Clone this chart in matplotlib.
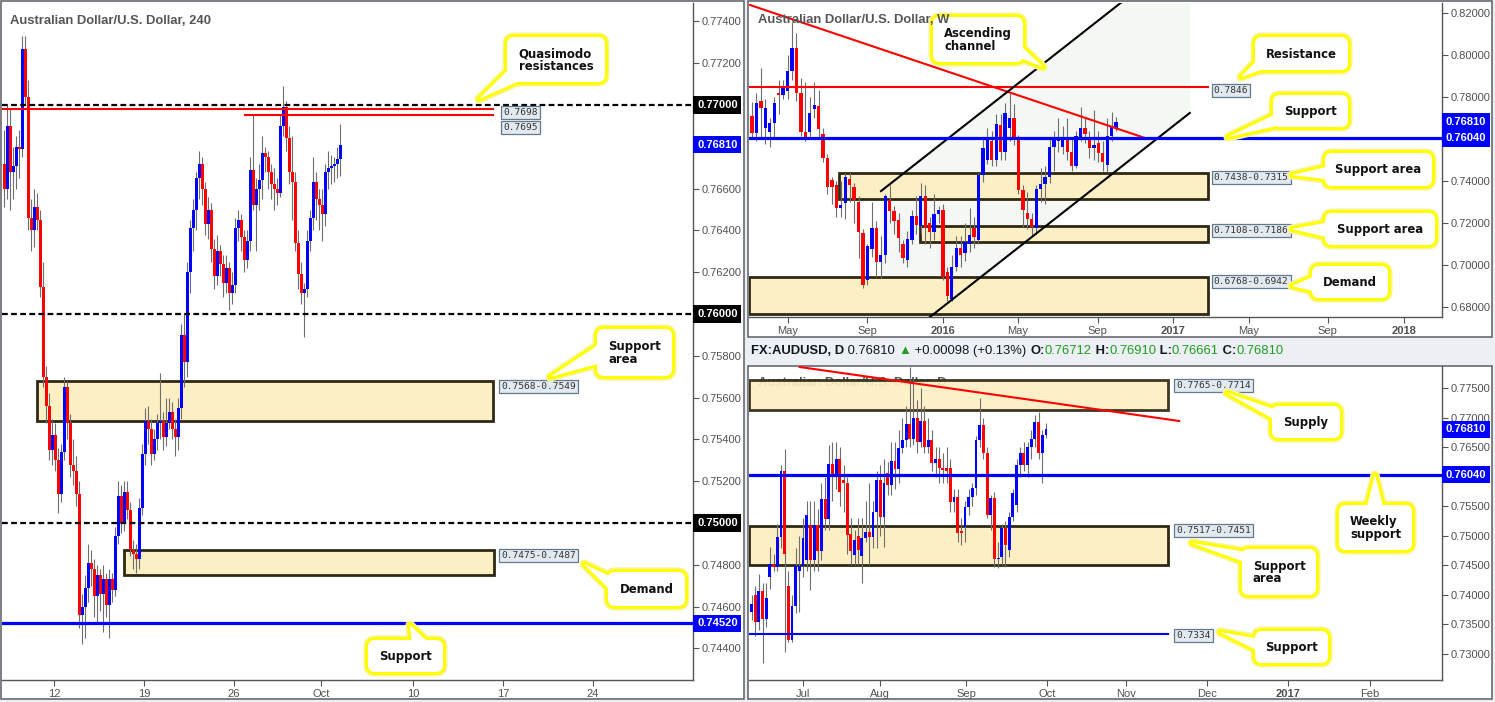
import numpy as np
import matplotlib
matplotlib.use("Agg")
import matplotlib.pyplot as plt
from matplotlib.patches import Rectangle, FancyBboxPatch, Polygon
from matplotlib.transforms import blended_transform_factory

plt.rcParams['font.family'] = ['Liberation Sans', 'DejaVu Sans']

W, H = 1495, 702

# ---------------- 4h candles (8 Sep - 3 Oct 2016) ----------------
h4_open = [.7672, .7660, .7690, .7668, .7671, .7680, .7679, .7727, .7704, .7646,
           .7640, .7651, .7645, .7613, .7570, .7556, .7535, .7542, .7530, .7514,
           .7534, .7565, .7548, .7528, .7525, .7514, .7456, .7460, .7469, .7481,
           .7478, .7465, .7475, .7466, .7473, .7461, .7473, .7468, .7494, .7513,
           .7500, .7515, .7506, .7487, .7485, .7483, .7507, .7533, .7549, .7545,
           .7533, .7540, .7548, .7549, .7541, .7548, .7553, .7545, .7541, .7555,
           .7590, .7577, .7620, .7641, .7650, .7665, .7672, .7660, .7643, .7650,
           .7631, .7618, .7630, .7624, .7615, .7622, .7610, .7614, .7641, .7645,
           .7637, .7626, .7635, .7669, .7652, .7660, .7664, .7677, .7675, .7668,
           .7662, .7660, .7658, .7690, .7699, .7684, .7668, .7663, .7634, .7619,
           .7610, .7612, .7635, .7646, .7663, .7655, .7652, .7648, .7668, .7670,
           .7671, .7672, .7674]
h4_high = [.7688, .7700, .7698, .7680, .7685, .7688, .7733, .7733, .7712, .7655,
           .7660, .7658, .7650, .7625, .7575, .7562, .7550, .7548, .7536, .7538,
           .7570, .7568, .7552, .7540, .7532, .7520, .7466, .7475, .7490, .7487,
           .7483, .7480, .7478, .7480, .7476, .7478, .7476, .7498, .7520, .7518,
           .7520, .7520, .7510, .7492, .7490, .7512, .7538, .7555, .7556, .7550,
           .7545, .7552, .7572, .7553, .7560, .7560, .7558, .7550, .7560, .7595,
           .7600, .7625, .7645, .7655, .7668, .7678, .7675, .7663, .7656, .7653,
           .7636, .7638, .7633, .7628, .7628, .7625, .7620, .7646, .7650, .7648,
           .7640, .7640, .7675, .7695, .7665, .7672, .7685, .7680, .7678, .7672,
           .7670, .7665, .7695, .7709, .7702, .7690, .7685, .7668, .7640, .7625,
           .7615, .7640, .7650, .7675, .7668, .7660, .7660, .7672, .7678, .7676,
           .7675, .7680, .7691]
h4_low = [.7651, .7655, .7650, .7655, .7660, .7665, .7675, .7700, .7640, .7630,
          .7632, .7640, .7608, .7565, .7548, .7530, .7528, .7525, .7505, .7510,
          .7530, .7540, .7522, .7518, .7508, .7450, .7442, .7445, .7462, .7470,
          .7455, .7452, .7458, .7448, .7455, .7445, .7462, .7465, .7490, .7495,
          .7496, .7502, .7484, .7478, .7476, .7478, .7504, .7528, .7538, .7528,
          .7530, .7535, .7540, .7535, .7537, .7545, .7540, .7532, .7535, .7550,
          .7565, .7570, .7610, .7630, .7640, .7655, .7652, .7638, .7636, .7625,
          .7612, .7614, .7618, .7608, .7610, .7602, .7605, .7610, .7635, .7630,
          .7620, .7622, .7630, .7650, .7630, .7650, .7655, .7668, .7660, .7655,
          .7650, .7652, .7656, .7685, .7678, .7662, .7645, .7630, .7612, .7605,
          .7589, .7608, .7630, .7640, .7645, .7640, .7635, .7642, .7660, .7662,
          .7663, .7665, .7666]
h4_close = [.7660, .7690, .7668, .7671, .7680, .7679, .7727, .7704, .7646, .7640,
            .7651, .7645, .7613, .7570, .7556, .7535, .7542, .7530, .7514, .7534,
            .7565, .7548, .7528, .7525, .7514, .7456, .7460, .7469, .7481, .7478,
            .7465, .7475, .7466, .7473, .7461, .7473, .7468, .7494, .7513, .7500,
            .7515, .7506, .7487, .7485, .7483, .7507, .7533, .7549, .7545, .7533,
            .7540, .7548, .7549, .7541, .7548, .7553, .7545, .7541, .7555, .7590,
            .7577, .7620, .7641, .7650, .7665, .7672, .7660, .7643, .7650, .7631,
            .7618, .7630, .7624, .7615, .7622, .7610, .7614, .7641, .7645, .7637,
            .7626, .7635, .7669, .7652, .7660, .7664, .7677, .7675, .7668, .7662,
            .7660, .7658, .7690, .7699, .7684, .7668, .7663, .7634, .7619, .7610,
            .7612, .7635, .7646, .7663, .7655, .7652, .7648, .7668, .7670, .7671,
            .7672, .7674, .7681]
h4_tick_pos = [16.5, 46.5, 76.5, 105.5, 136.2, 166.2, 196.2]
h4_tick_labels = ['12', '19', '26', 'Oct', '10', '17', '24']

# ---------------- weekly candles (Apr 2015 - Oct 2016) ----------------
wk_open = [.7710, .7630, .7781, .7650, .7633, .7676, .7819, .7810, .7829, .7924,
           .8033, .7819, .7633, .7633, .7743, .7757, .7624, .7510, .7404, .7381,
           .7271, .7295, .7410, .7371, .7300, .7152, .6929, .7076, .7176, .7014,
           .7048, .7310, .7257, .7214, .7100, .7024, .7119, .7233, .7186, .7329,
           .7200, .7157, .7243, .7262, .6967, .6838, .6990, .7081, .7057, .7100,
           .7176, .7119, .7429, .7500, .7590, .7500, .7667, .7538, .7652, .7700,
           .7595, .7357, .7248, .7219, .7176, .7362, .7386, .7420, .7562, .7590,
           .7562, .7610, .7540, .7470, .7605, .7652, .7605, .7557, .7581, .7533,
           .7476, .7614, .7652]
wk_high = [.7775, .7820, .7938, .7790, .7700, .7800, .7880, .7880, .8000, .8155,
           .8105, .7890, .7870, .7800, .7870, .7835, .7650, .7530, .7420, .7400,
           .7400, .7440, .7440, .7390, .7330, .7170, .7100, .7300, .7210, .7140,
           .7340, .7382, .7280, .7250, .7120, .7160, .7260, .7330, .7390, .7380,
           .7230, .7340, .7280, .7290, .6990, .7050, .7140, .7140, .7200, .7270,
           .7230, .7440, .7600, .7650, .7640, .7720, .7720, .7770, .7819, .7765,
           .7620, .7380, .7350, .7250, .7380, .7460, .7470, .7600, .7640, .7700,
           .7660, .7700, .7600, .7640, .7752, .7700, .7640, .7738, .7640, .7590,
           .7700, .7730, .7705]
wk_low = [.7600, .7590, .7610, .7575, .7562, .7600, .7720, .7790, .7790, .7880,
          .7780, .7615, .7590, .7600, .7700, .7600, .7490, .7340, .7290, .7230,
          .7230, .7220, .7300, .7200, .7033, .6890, .6905, .7040, .6943, .6940,
          .7010, .7200, .7150, .7060, .7010, .6990, .7100, .7150, .7150, .7100,
          .7080, .7120, .7200, .6930, .6827, .6827, .6970, .6990, .7020, .7060,
          .7080, .7100, .7395, .7480, .7470, .7470, .7500, .7500, .7590, .7570,
          .7340, .7180, .7170, .7140, .7150, .7300, .7290, .7390, .7450, .7540,
          .7530, .7500, .7450, .7460, .7590, .7580, .7510, .7500, .7490, .7450,
          .7445, .7590, .7640]
wk_close = [.7630, .7770, .7748, .7748, .7676, .7771, .7810, .7843, .7924, .8033,
            .7819, .7633, .7610, .7724, .7762, .7648, .7510, .7371, .7371, .7271,
            .7286, .7419, .7380, .7310, .7157, .6905, .7090, .7176, .7014, .7048,
            .7329, .7257, .7210, .7129, .7033, .7124, .7233, .7190, .7329, .7176,
            .7157, .7243, .7262, .6943, .6852, .6990, .7081, .7050, .7110, .7143,
            .7133, .7429, .7557, .7595, .7500, .7671, .7538, .7724, .7700, .7600,
            .7357, .7262, .7219, .7181, .7362, .7386, .7420, .7562, .7595, .7600,
            .7610, .7540, .7470, .7614, .7652, .7624, .7557, .7571, .7533, .7490,
            .7614, .7662, .7681]
wk_tick_pos = [8.1, 25.9, 43.0, 59.9, 77.9, 94.8, 111.9, 129.7, 146.8]
wk_tick_labels = ['May', 'Sep', '2016', 'May', 'Sep', '2017', 'May', 'Sep', '2018']

# ---------------- daily candles (13 Jun - 3 Oct 2016) ----------------
d_open = [.7371, .7400, .7354, .7407, .7359, .7431, .7453, .7448, .7498, .7610,
          .7415, .7324, .7381, .7440, .7449, .7460, .7519, .7459, .7519, .7475,
          .7563, .7529, .7622, .7605, .7631, .7595, .7590, .7503, .7468, .7500,
          .7466, .7497, .7507, .7498, .7540, .7595, .7532, .7607, .7586, .7627,
          .7614, .7649, .7663, .7690, .7665, .7700, .7660, .7695, .7650, .7663,
          .7624, .7630, .7615, .7615, .7615, .7558, .7566, .7508, .7515, .7549,
          .7566, .7581, .7663, .7688, .7641, .7536, .7564, .7461, .7464, .7514,
          .7476, .7532, .7552, .7620, .7641, .7620, .7650, .7665, .7693, .7640,
          .76712]
d_high = [.7400, .7415, .7435, .7420, .7420, .7481, .7470, .7520, .7620, .7647,
          .7440, .7400, .7480, .7500, .7530, .7560, .7560, .7560, .7545, .7590,
          .7600, .7654, .7660, .7660, .7650, .7620, .7600, .7530, .7510, .7530,
          .7530, .7560, .7590, .7560, .7610, .7620, .7630, .7625, .7660, .7660,
          .7680, .7700, .7720, .7786, .7768, .7730, .7751, .7720, .7700, .7680,
          .7650, .7650, .7640, .7650, .7630, .7580, .7580, .7530, .7560, .7580,
          .7590, .7670, .7734, .7700, .7650, .7570, .7575, .7490, .7520, .7525,
          .7540, .7580, .7630, .7650, .7660, .7660, .7680, .7705, .7710, .7680,
          .76910]
d_low = [.7358, .7331, .7340, .7285, .7345, .7410, .7440, .7440, .7480, .7303,
         .7320, .7320, .7370, .7371, .7430, .7440, .7408, .7440, .7440, .7460,
         .7510, .7510, .7560, .7580, .7550, .7540, .7470, .7450, .7450, .7450,
         .7420, .7490, .7450, .7480, .7480, .7500, .7481, .7570, .7570, .7580,
         .7590, .7640, .7650, .7650, .7655, .7640, .7650, .7640, .7640, .7610,
         .7600, .7590, .7590, .7590, .7540, .7540, .7490, .7485, .7490, .7535,
         .7550, .7570, .7650, .7630, .7530, .7510, .7447, .7445, .7450, .7447,
         .7465, .7525, .7540, .7600, .7610, .7600, .7630, .7650, .7630, .7590,
         .76661]
d_close = [.7385, .7354, .7407, .7359, .7395, .7453, .7448, .7498, .7610, .7469,
           .7324, .7381, .7449, .7449, .7497, .7536, .7459, .7519, .7475, .7563,
           .7529, .7622, .7605, .7631, .7575, .7590, .7502, .7475, .7493, .7476,
           .7497, .7507, .7498, .7540, .7595, .7532, .7590, .7586, .7627, .7614,
           .7649, .7663, .7690, .7665, .7700, .7660, .7695, .7650, .7663, .7624,
           .7630, .7615, .7612, .7610, .7558, .7566, .7505, .7505, .7549, .7566,
           .7581, .7663, .7688, .7641, .7536, .7564, .7461, .7463, .7514, .7484,
           .7532, .7572, .7620, .7641, .7620, .7650, .7665, .7693, .7640, .7671,
           .76810]
d_tick_pos = [14.0, 34.9, 58.3, 80.3, 101.8, 123.8, 145.8, 168.1]
d_tick_labels = ['Jul', 'Aug', 'Sep', 'Oct', 'Nov', 'Dec', '2017', 'Feb']

RED = '#ff0000'
BLUE = '#0000ff'
ZONE_FC = '#fdefc4'
ZONE_EC = '#2f2913'
AXIS_C = '#555555'


def px_rect(x0, y0, x1, y1):
    return [x0 / W, 1 - y1 / H, (x1 - x0) / W, (y1 - y0) / H]


def candles(ax, o, h, l, c, width, min_body):
    o, h, l, c = map(np.asarray, (o, h, l, c))
    x = np.arange(len(o))
    ax.vlines(x, l, h, color='#6e6e6e', lw=0.8, zorder=3)
    up = c >= o
    body = np.maximum(np.abs(c - o), min_body)
    ax.bar(x[up], body[up], bottom=o[up], width=width, color=BLUE, lw=0, zorder=4)
    ax.bar(x[~up], body[~up], bottom=c[~up], width=width, color=RED, lw=0, zorder=4)


def style_axis(ax, xlim, ylim, yticks, hidden, xticks, xlabels):
    ax.set_facecolor('none')
    ax.set_xlim(*xlim)
    ax.set_ylim(*ylim)
    for s in ('left', 'top'):
        ax.spines[s].set_visible(False)
    for s in ('right', 'bottom'):
        ax.spines[s].set_color(AXIS_C)
        ax.spines[s].set_linewidth(1.0)
    ax.yaxis.tick_right()
    ax.set_yticks(yticks)
    # levels covered by a price tag in the original keep no visible label
    ax.set_yticklabels(['' if any(abs(v - hv) < 1e-9 for hv in hidden) else '%.5f' % v
                        for v in yticks])
    ax.set_xticks(xticks)
    ax.set_xticklabels(xlabels)
    for lab in ax.get_xticklabels():
        if lab.get_text().isdigit() and len(lab.get_text()) == 4:
            lab.set_fontweight('bold')
    ax.tick_params(axis='both', length=4, width=0.8, color=AXIS_C,
                   labelcolor='#505050', labelsize=8, pad=2.5)


def price_tag(ax, y, text, color):
    tr = blended_transform_factory(ax.transAxes, ax.transData)
    ax.annotate(text, xy=(1, y), xycoords=tr, xytext=(4, 0), textcoords='offset pixels',
                ha='left', va='center', color='white', fontsize=8, fontweight='bold',
                bbox=dict(boxstyle='square,pad=0.33', fc=color, ec='none'),
                zorder=20, annotation_clip=False)


def level_tag(ax, x, y, text, dy=0, va='top'):
    ax.annotate(text, xy=(x, y), xytext=(0, -dy), textcoords='offset pixels',
                ha='left', va=va, fontsize=6.8, family='DejaVu Sans Mono', color='#333333',
                bbox=dict(boxstyle='square,pad=0.22', fc='#e2eaf0', ec='#637a8c', lw=0.9),
                zorder=9, annotation_clip=False)


def zone(ax, x0, x1, lo, hi):
    ax.add_patch(Rectangle((x0, lo), x1 - x0, hi - lo, fc=ZONE_FC, ec=ZONE_EC,
                           lw=2.0, zorder=2))


fig = plt.figure(figsize=(W / 100, H / 100), dpi=100)
fig.patch.set_facecolor('#eceff3')

bg = fig.add_axes([0, 0, 1, 1], zorder=0)
bg.set_xlim(0, W)
bg.set_ylim(H, 0)
bg.axis('off')
for (x0, y0, x1, y1) in [(1, 1, 744, 699), (748, 1, 1492, 337), (748, 366, 1492, 699)]:
    bg.add_patch(Rectangle((x0, y0), x1 - x0, y1 - y0, fc='white', ec='#5a5e63', lw=1.1))

# ================= left: 4h =================
ax1 = fig.add_axes(px_rect(2, 3, 693, 680), zorder=2)
style_axis(ax1, (-0.83, 229.5), (0.74249, 0.77488),
           np.round(np.arange(0.744, 0.7741, 0.002), 3), (0.770, 0.768, 0.760, 0.750),
           h4_tick_pos, h4_tick_labels)
candles(ax1, h4_open, h4_high, h4_low, h4_close, 0.85, 0.00006)
for lvl in (0.770, 0.760, 0.750):
    ax1.axhline(lvl, color='black', lw=1.6, ls=(0, (2.6, 1.5)), zorder=5)
ax1.plot([-0.83, 162.8], [0.7698, 0.7698], color=RED, lw=1.5, zorder=5)
ax1.plot([80.2, 162.8], [0.7695, 0.7695], color=RED, lw=1.5, zorder=5)
zone(ax1, 10.8, 162.8, 0.7549, 0.7568)
zone(ax1, 39.8, 163.2, 0.7475, 0.7487)
ax1.axhline(0.7452, color=BLUE, lw=2.3, zorder=5)
level_tag(ax1, 166.2, 0.7698, '0.7698', dy=3, va='center')
level_tag(ax1, 166.2, 0.7695, '0.7695', dy=12, va='center')
level_tag(ax1, 165.5, 0.7568, '0.7568-0.7549', dy=1)
level_tag(ax1, 165.5, 0.7487, '0.7475-0.7487', dy=1)
ax1.text(0.012, 0.974, 'Australian Dollar/U.S. Dollar, 240', transform=ax1.transAxes,
         fontsize=9.4, fontweight='bold', color='#555555', va='center', ha='left', zorder=6)
price_tag(ax1, 0.770, '0.77000', 'black')
price_tag(ax1, 0.7681, '0.76810', BLUE)
price_tag(ax1, 0.760, '0.76000', 'black')
price_tag(ax1, 0.750, '0.75000', 'black')
price_tag(ax1, 0.7452, '0.74520', BLUE)

# ================= top right: weekly =================
ax2 = fig.add_axes(px_rect(749, 3, 1442, 317), zorder=2)
style_axis(ax2, (-0.68, 155.4), (0.67524, 0.82476),
           np.round(np.arange(0.68, 0.8201, 0.02), 2), (0.76,),
           wk_tick_pos, wk_tick_labels)
slope = 0.00166
ax2.add_patch(Polygon([(29.05, 0.7352), (98.6, 0.7352 + slope * 69.55),
                       (98.6, 0.7724), (29.05, 0.7724 - slope * 69.55)],
                      closed=True, fc='#f5f7f5', ec='none', zorder=1))
zone(ax2, 19.6, 102.7, 0.7315, 0.7438)
zone(ax2, 37.8, 102.7, 0.7108, 0.7186)
zone(ax2, -0.68, 102.7, 0.6768, 0.6942)
candles(ax2, wk_open, wk_high, wk_low, wk_close, 0.75, 0.0006)
ax2.plot([-0.68, 102.7], [0.7846, 0.7846], color=RED, lw=1.5, zorder=5)
ax2.plot([-0.45, 88.5], [0.8238, 0.76048], color=RED, lw=1.5, zorder=5)
ax2.plot([29.05, 100], [0.7352, 0.7352 + slope * 70.95], color='black', lw=1.5, zorder=5)
ax2.plot([10, 98.6], [0.7724 - slope * 88.6, 0.7724], color='black', lw=1.5, zorder=5)
ax2.axhline(0.7604, color=BLUE, lw=2.3, zorder=5)
level_tag(ax2, 104.0, 0.7846, '0.7846', dy=3, va='center')
level_tag(ax2, 104.0, 0.7438, '0.7438-0.7315', dy=0)
level_tag(ax2, 104.0, 0.7186, '0.7108-0.7186', dy=0)
level_tag(ax2, 104.0, 0.6942, '0.6768-0.6942', dy=0)
price_tag(ax2, 0.7681, '0.76810', BLUE)
price_tag(ax2, 0.7604, '0.76040', BLUE)

# ================= bottom right: daily =================
ax3 = fig.add_axes(px_rect(749, 366, 1442, 680), zorder=2)
style_axis(ax3, (-0.68, 187.6), (0.72559, 0.77881),
           np.round(np.arange(0.730, 0.7751, 0.005), 3), (0.760,),
           d_tick_pos, d_tick_labels)
ax3.text(0.013, 0.946, 'Australian Dollar/U.S. Dollar, D', transform=ax3.transAxes,
         fontsize=9.4, fontweight='bold', color='#555555', va='center', ha='left', zorder=1)
ax3.add_patch(Rectangle((-0.68, 0.7714), 113.9, 0.0051, fc=ZONE_FC, ec=ZONE_EC,
                        lw=2.0, alpha=0.93, zorder=2))
zone(ax3, -0.68, 113.2, 0.7451, 0.7517)
candles(ax3, d_open, d_high, d_low, d_close, 0.78, 0.00015)
ax3.plot([13.1, 116.2], [0.77864, 0.76949], color=RED, lw=1.5, zorder=5)
ax3.axhline(0.7604, color=BLUE, lw=2.3, zorder=5)
ax3.plot([-0.68, 113.2], [0.7334, 0.7334], color=BLUE, lw=1.5, zorder=5)
level_tag(ax3, 115.4, 0.7765, '0.7765-0.7714', dy=1)
level_tag(ax3, 115.4, 0.7517, '0.7517-0.7451', dy=0)
level_tag(ax3, 115.4, 0.7334, '0.7334', dy=2, va='center')
price_tag(ax3, 0.7681, '0.76810', BLUE)
price_tag(ax3, 0.7604, '0.76040', BLUE)

# ================= overlay: header + callouts =================
ov = fig.add_axes([0, 0, 1, 1], zorder=10)
ov.set_xlim(0, W)
ov.set_ylim(H, 0)
ov.axis('off')

DARK = '#131722'
GREEN = '#1f9d1f'
t = ov.text(751, 351, 'FX:AUDUSD, D', fontsize=9.35, fontweight='bold', color=DARK,
            ha='left', va='center', family='Liberation Sans')
pieces = [(' 0.76810 ', 'normal', DARK), ('\u25b2', 'normal', GREEN),
          (' +0.00098 (+0.13%) ', 'normal', DARK), ('O:', 'bold', DARK),
          ('0.76712', 'normal', GREEN), (' H:', 'bold', DARK), ('0.76910', 'normal', GREEN),
          (' L:', 'bold', DARK), ('0.76661', 'normal', GREEN), (' C:', 'bold', DARK),
          ('0.76810', 'normal', GREEN)]
for s, wt, col in pieces:
    t = ov.annotate(s, xy=(1, 0), xycoords=t, xytext=(0, 0), textcoords='offset points',
                    ha='left', va='bottom', fontsize=9.35, fontweight=wt, color=col,
                    family=['Liberation Sans', 'DejaVu Sans'])

# weekly title sits above the channel callout in the original
ov.text(758, 20, 'Australian Dollar/U.S. Dollar, W', fontsize=9.4, fontweight='bold',
        color='#555555', va='center', ha='left', zorder=16)


def callout(x0, y0, x1, y1, tail, text):
    bstyle = 'round,pad=0,rounding_size=7'
    for lw, col, z in ((6.6, '#f7f49e', 11), (4.4, '#ffff00', 12)):
        ov.add_patch(FancyBboxPatch((x0, y0), x1 - x0, y1 - y0, boxstyle=bstyle,
                                    fc='none', ec=col, lw=lw, zorder=z))
        ov.add_patch(Polygon(tail, closed=True, fc='none', ec=col, lw=lw,
                             joinstyle='round', zorder=z))
    ov.add_patch(FancyBboxPatch((x0, y0), x1 - x0, y1 - y0, boxstyle=bstyle,
                                fc='white', ec='none', zorder=13))
    ov.add_patch(Polygon(tail, closed=True, fc='white', ec='none', zorder=13))
    ov.text((x0 + x1) / 2, (y0 + y1) / 2 + 0.5, text, ha='center', va='center',
            multialignment='left', fontsize=8.4, fontweight='bold', family='DejaVu Sans',
            color='#111111', linespacing=0.95, zorder=14)


callout(507, 37, 605, 82, [(512, 66), (479, 99), (526, 78)], 'Quasimodo\nresistances')
callout(597, 329, 672, 376, [(601, 343), (550, 377), (601, 363)], 'Support\narea')
callout(608, 572, 685, 606, [(612, 577), (584, 564), (612, 592)], 'Demand')
callout(368, 640, 443, 672, [(412, 645), (410, 625), (431, 645)], 'Support')

callout(933, 17, 1023, 62, [(1018, 43), (1043, 67), (1018, 57)], 'Ascending\nchannel')
callout(1255, 37, 1348, 70, [(1260, 57), (1241, 77), (1272, 66)], 'Resistance')
callout(1273, 95, 1348, 127, [(1278, 113), (1228, 137), (1290, 123)], 'Support')
callout(1325, 153, 1432, 186, [(1330, 166), (1292, 175), (1341, 181)], 'Support area')
callout(1325, 213, 1435, 245, [(1330, 222), (1292, 229), (1330, 238)], 'Support area')
callout(1312, 266, 1388, 298, [(1317, 275), (1292, 286), (1317, 292)], 'Demand')

callout(1272, 406, 1340, 438, [(1277, 410), (1227, 393), (1277, 421)], 'Supply')
callout(1339, 505, 1412, 550, [(1366, 510), (1375, 475), (1384, 510)], 'Weekly\nsupport')
callout(1242, 549, 1316, 595, [(1247, 552), (1192, 543), (1247, 563)], 'Support\narea')
callout(1255, 631, 1328, 663, [(1260, 639), (1220, 632), (1260, 652)], 'Support')

fig.savefig('out.png', dpi=100, facecolor=fig.get_facecolor())
